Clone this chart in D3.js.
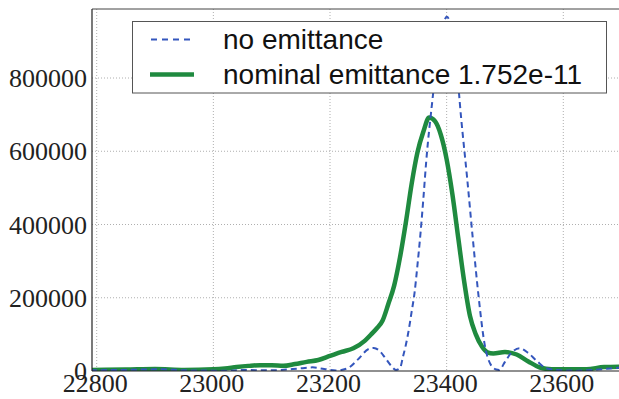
<!DOCTYPE html>
<html>
<head>
<meta charset="utf-8">
<script src="https://cdn.jsdelivr.net/npm/d3@7"></script>
<style>
  html, body { margin: 0; padding: 0; background: #fff; }
  svg { display: block; }
</style>
</head>
<body>
<svg id="chart" width="619" height="399"></svg>
<script>
// ---- data ----
const seriesNames = ["no emittance", "nominal emittance 1.752e-11"];

const noEmitX = [22790, 22850, 22910, 22950, 23000, 23020, 23050, 23100, 23150, 23170, 23190, 23210, 23230, 23250, 23265, 23275, 23285, 23295, 23305, 23313, 23320, 23325, 23330, 23335, 23340, 23345, 23350, 23355, 23360, 23365, 23375, 23385, 23395, 23400, 23405, 23415, 23425, 23435, 23445, 23455, 23465, 23475, 23485, 23490, 23500, 23510, 23525, 23540, 23555, 23570, 23590, 23620, 23650, 23680, 23710];
const noEmitY = [2000, 3000, 4500, 2000, 1000, 500, 2500, 2000, 7400, 10000, 5500, 1400, 7400, 35000, 59000, 63000, 55000, 35000, 14000, 3000, 8000, 38000, 71000, 112000, 162000, 214000, 290000, 373000, 469000, 573000, 731000, 866000, 951000, 967000, 956000, 866000, 688000, 529000, 359000, 200000, 74000, 19000, 4000, 2700, 25000, 48000, 62000, 49000, 27000, 8000, 2700, 1000, 2700, 7000, 11000];

const nominalX = [22790, 22850, 22900, 22950, 23000, 23020, 23040, 23060, 23080, 23100, 23120, 23140, 23160, 23180, 23200, 23220, 23240, 23260, 23270, 23280, 23290, 23300, 23310, 23320, 23330, 23340, 23350, 23360, 23370, 23380, 23390, 23400, 23410, 23420, 23430, 23440, 23450, 23460, 23470, 23480, 23500, 23520, 23540, 23560, 23580, 23600, 23640, 23670, 23710];
const nominalY = [3000, 4000, 5500, 3000, 4700, 7000, 11000, 14000, 16000, 16000, 14000, 19000, 25000, 30000, 41000, 52000, 62000, 83000, 99000, 116000, 137000, 183000, 233000, 310000, 405000, 511000, 597000, 653000, 692000, 682000, 645000, 578000, 481000, 362000, 245000, 150000, 100000, 68000, 51000, 48000, 52000, 45000, 26000, 9600, 4700, 4700, 4700, 11000, 12000];

const xTicks = [22800, 23000, 23200, 23400, 23600];
const yTicks = [0, 200000, 400000, 600000, 800000];

// ---- layout ----
const svg = d3.select("#chart");
const plotLeft = 92, plotTop = 9, plotBottom = 371, plotRight = 640;

const x = d3.scaleLinear().domain([22800, 23600]).range([96.7, 563.3]);
const y = d3.scaleLinear().domain([0, 800000]).range([371, 78]);

const blue = "#3456bd";
const green = "#1f8a3f";

// clip
svg.append("defs").append("clipPath").attr("id", "clip")
  .append("rect").attr("x", plotLeft).attr("y", plotTop)
  .attr("width", plotRight - plotLeft).attr("height", plotBottom - plotTop);

// grid
const grid = svg.append("g").attr("stroke", "#9a9a9a").attr("stroke-width", 0.8)
  .attr("stroke-dasharray", "1,2");
grid.selectAll("line.vx").data(xTicks).join("line")
  .attr("x1", d => x(d)).attr("x2", d => x(d))
  .attr("y1", plotTop).attr("y2", plotBottom);
grid.selectAll("line.hy").data(yTicks.filter(d => d > 0)).join("line")
  .attr("x1", plotLeft).attr("x2", plotRight)
  .attr("y1", d => y(d)).attr("y2", d => y(d));

// curves
const line = d3.line().x(d => x(d[0])).y(d => y(d[1])).curve(d3.curveMonotoneX);
const plotG = svg.append("g").attr("clip-path", "url(#clip)");

plotG.append("path")
  .datum(nominalX.map((v, i) => [v, nominalY[i]]))
  .attr("d", line).attr("fill", "none")
  .attr("stroke", green).attr("stroke-width", 4.5)
  .attr("stroke-linejoin", "round");

plotG.append("path")
  .datum(noEmitX.map((v, i) => [v, noEmitY[i]]))
  .attr("d", line).attr("fill", "none")
  .attr("stroke", blue).attr("stroke-width", 2)
  .attr("stroke-dasharray", "6,4");

// frame / axes
svg.append("line").attr("x1", plotLeft).attr("x2", plotRight)
  .attr("y1", plotTop).attr("y2", plotTop)
  .attr("stroke", "#444").attr("stroke-width", 1);
svg.append("line").attr("x1", plotLeft).attr("x2", plotRight)
  .attr("y1", plotBottom).attr("y2", plotBottom)
  .attr("stroke", "#222").attr("stroke-width", 1.2);
svg.append("line").attr("x1", plotLeft).attr("x2", plotLeft)
  .attr("y1", plotTop).attr("y2", plotBottom)
  .attr("stroke", "#222").attr("stroke-width", 1.2);

// tick labels
const tickFont = "'Liberation Serif', 'Times New Roman', serif";
svg.append("g").selectAll("text").data(yTicks).join("text")
  .attr("x", 87).attr("y", d => y(d))
  .attr("dy", "0.35em")
  .attr("text-anchor", "end")
  .attr("font-family", tickFont).attr("font-size", 26)
  .attr("fill", "#222")
  .text(d => d);

svg.append("g").selectAll("text").data(xTicks).join("text")
  .attr("x", d => x(d) - 1.5).attr("y", 392)
  .attr("text-anchor", "middle")
  .attr("font-family", tickFont).attr("font-size", 26)
  .attr("fill", "#222")
  .text(d => d);

// legend
const leg = svg.append("g");
leg.append("rect").attr("x", 132.5).attr("y", 21.5).attr("width", 474).attr("height", 71.5)
  .attr("fill", "#fff").attr("stroke", "#555").attr("stroke-width", 1);
leg.append("line").attr("x1", 151).attr("x2", 192).attr("y1", 39.5).attr("y2", 39.5)
  .attr("stroke", blue).attr("stroke-width", 2).attr("stroke-dasharray", "6,5");
leg.append("line").attr("x1", 150).attr("x2", 194).attr("y1", 74.5).attr("y2", 74.5)
  .attr("stroke", green).attr("stroke-width", 4.5);
const legFont = "'Liberation Sans', Arial, sans-serif";
leg.append("text").attr("x", 223).attr("y", 48.5)
  .attr("font-family", legFont).attr("font-size", 28).attr("fill", "#111")
  .text(seriesNames[0]);
leg.append("text").attr("x", 223).attr("y", 83.5)
  .attr("font-family", legFont).attr("font-size", 28).attr("fill", "#111")
  .text(seriesNames[1]);
</script>
</body>
</html>
